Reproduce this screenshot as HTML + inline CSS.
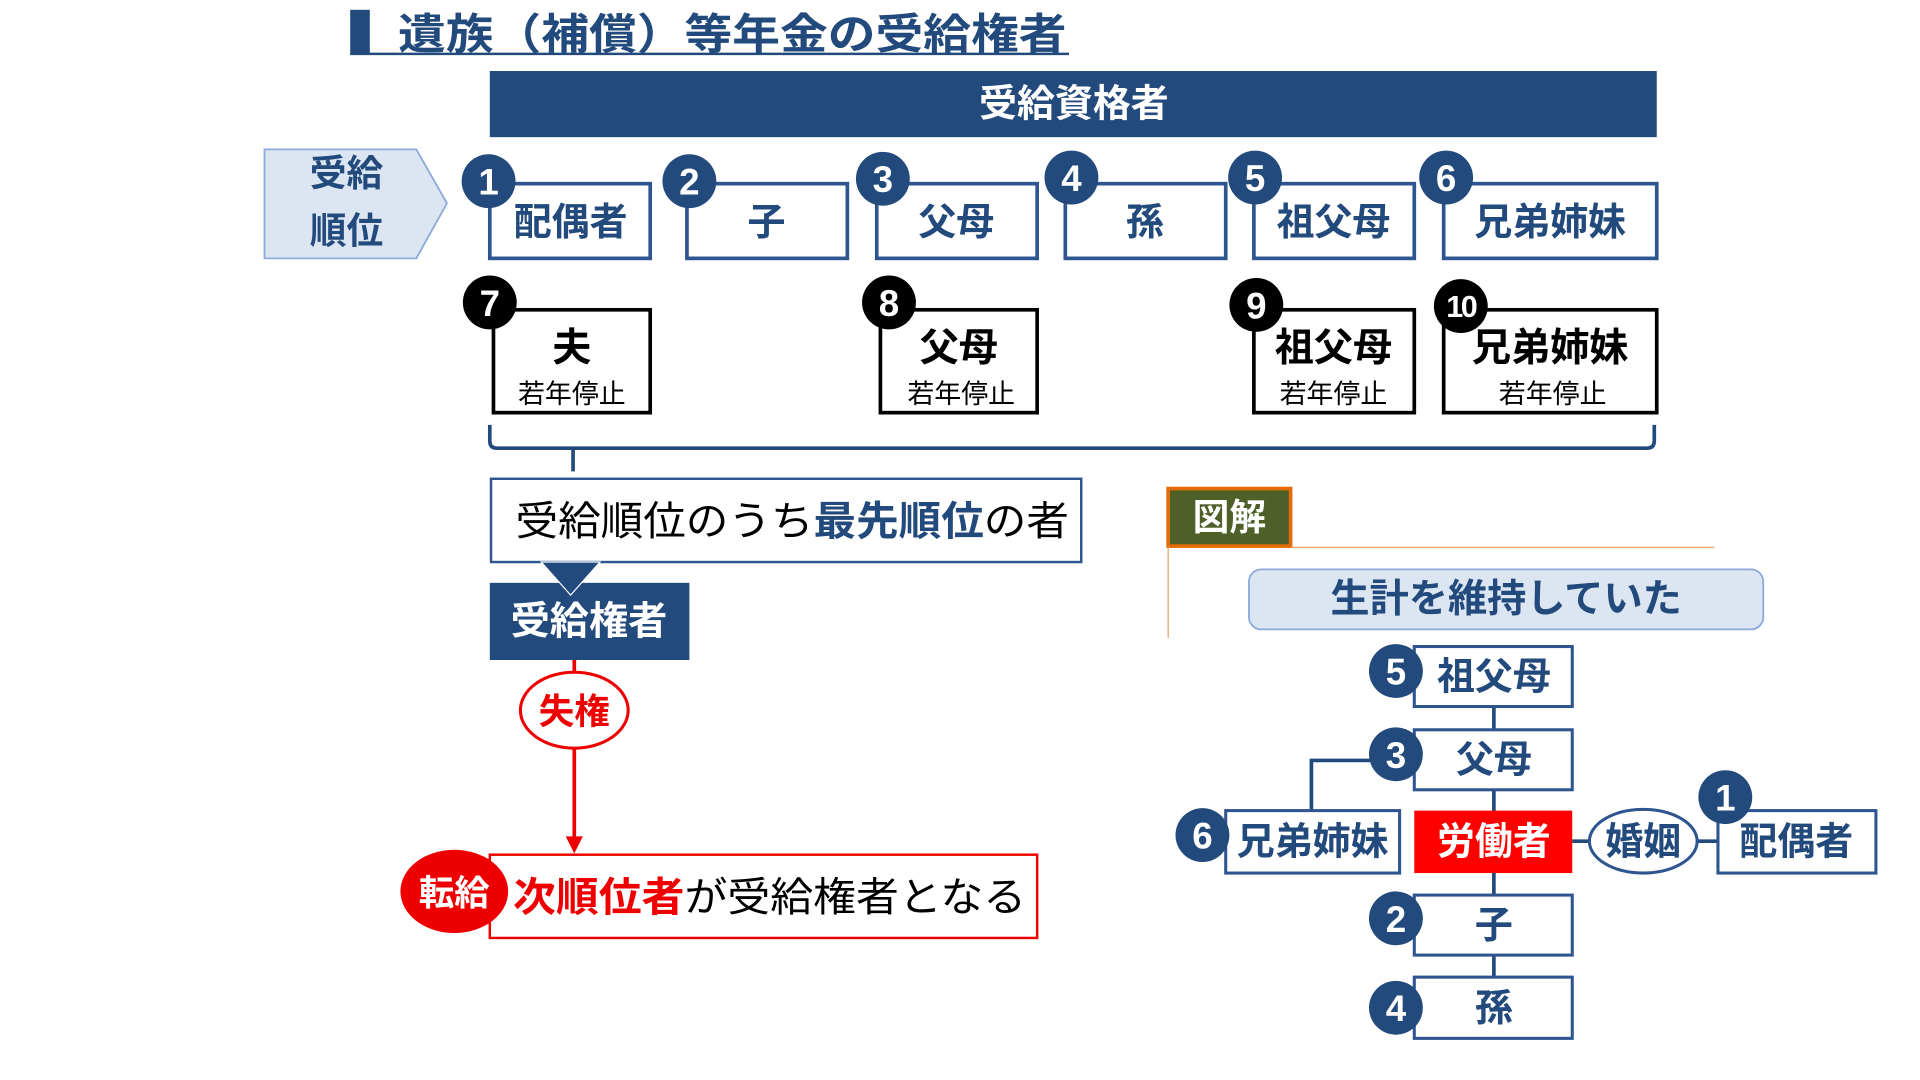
<!DOCTYPE html>
<html><head><meta charset="utf-8"><style>
html,body{margin:0;padding:0;background:#fff;width:1920px;height:1080px;overflow:hidden}
svg{display:block}
text{font-family:"Liberation Sans","Noto Sans CJK JP",sans-serif}
</style></head><body>
<svg width="1920" height="1080" viewBox="0 0 1568 882" xmlns="http://www.w3.org/2000/svg">
<g font-weight="bold">
<!-- title -->
<rect x="286" y="8" width="16" height="36" fill="#234a7c"/>
<text x="325" y="40" font-size="35" fill="#234a7c" textLength="546" lengthAdjust="spacingAndGlyphs">遺族（補償）等年金の受給権者</text>
<line x1="286" y1="44" x2="873" y2="44" stroke="#234a7c" stroke-width="2"/>
<!-- header -->
<rect x="400" y="58" width="953" height="54" fill="#234a7c"/>
<text x="877" y="95" font-size="31" fill="#fff" text-anchor="middle">受給資格者</text>
<!-- arrow -->
<polygon points="216,122 340,122 365,166 340,211 216,211" fill="#dce6f2" stroke="#8eaadb" stroke-width="1.5"/>
<text x="283" y="152" font-size="30" fill="#234a7c" text-anchor="middle">受給</text>
<text x="283" y="199" font-size="30" fill="#234a7c" text-anchor="middle">順位</text>
<!-- top row -->
<g fill="#fff" stroke="#2e5590" stroke-width="3">
<rect x="400" y="150" width="131" height="61"/>
<rect x="561" y="150" width="131" height="61"/>
<rect x="716" y="150" width="131" height="61"/>
<rect x="870" y="150" width="131" height="61"/>
<rect x="1024" y="150" width="131" height="61"/>
<rect x="1179" y="150" width="174" height="61"/>
</g>
<g font-size="31" fill="#234a7c" text-anchor="middle">
<text x="466" y="192">配偶者</text><text x="626" y="192">子</text><text x="781" y="192">父母</text>
<text x="935" y="192">孫</text><text x="1089" y="192">祖父母</text><text x="1266" y="192">兄弟姉妹</text>
</g>
<g fill="#234a7c"><circle cx="399" cy="148" r="22"/><circle cx="563" cy="148" r="22"/><circle cx="721" cy="146" r="22"/><circle cx="875" cy="145" r="22"/><circle cx="1025" cy="145" r="22"/><circle cx="1181" cy="145" r="22"/></g>
<g font-size="30" fill="#fff" text-anchor="middle">
<text x="399" y="159">1</text><text x="563" y="159">2</text><text x="721" y="157">3</text><text x="875" y="156">4</text><text x="1025" y="156">5</text><text x="1181" y="156">6</text>
</g>
<!-- second row -->
<g fill="#fff" stroke="#000" stroke-width="3">
<rect x="403" y="253" width="128" height="84"/><rect x="719" y="253" width="128" height="84"/>
<rect x="1024" y="253" width="131" height="84"/><rect x="1179" y="253" width="174" height="84"/>
</g>
<g font-size="32" fill="#000" text-anchor="middle">
<text x="467" y="295">夫</text><text x="783" y="295">父母</text><text x="1089" y="295">祖父母</text><text x="1266" y="295">兄弟姉妹</text>
</g>
<g font-size="22" font-weight="normal" fill="#000" text-anchor="middle">
<text x="467" y="329">若年停止</text><text x="785" y="329">若年停止</text><text x="1089" y="329">若年停止</text><text x="1268" y="329">若年停止</text>
</g>
<g fill="#000"><circle cx="400" cy="247" r="22"/><circle cx="726" cy="247" r="22"/><circle cx="1026" cy="249" r="22"/><circle cx="1193" cy="250" r="22"/></g>
<g fill="#fff" text-anchor="middle">
<text x="400" y="258" font-size="30">7</text><text x="726" y="258" font-size="30">8</text><text x="1026" y="260" font-size="30">9</text><text x="1193" y="259" font-size="25" letter-spacing="-2">10</text>
</g>
<!-- brace -->
<path d="M400,347 V360 Q400,366 406,366 H1345 Q1351,366 1351,360 V347" fill="none" stroke="#234a7c" stroke-width="3"/>
<line x1="468" y1="366" x2="468" y2="385" stroke="#234a7c" stroke-width="3"/>
<!-- priority box -->
<rect x="401" y="391" width="482" height="68" fill="#fff" stroke="#2e5590" stroke-width="2"/>
<text x="421" y="437" font-size="33" font-weight="normal" fill="#000" textLength="452" lengthAdjust="spacingAndGlyphs">受給順位のうち<tspan fill="#234a7c" font-weight="bold">最先順位</tspan>の者</text>
<rect x="400" y="476" width="163" height="63" fill="#234a7c"/>
<polygon points="442,459 490,459 466,486" fill="#234a7c" stroke="#fff" stroke-width="1"/>
<text x="481" y="518" font-size="32" fill="#fff" text-anchor="middle">受給権者</text>
<!-- red flow -->
<line x1="469" y1="539" x2="469" y2="685" stroke="#e00" stroke-width="3"/>
<polygon points="462,683 476,683 469,697" fill="#e00"/>
<ellipse cx="469" cy="580" rx="44" ry="31" fill="#fff" stroke="#e00" stroke-width="2.5"/>
<text x="469" y="591" font-size="29" fill="#e00" text-anchor="middle">失権</text>
<rect x="400" y="698" width="447" height="68" fill="#fff" stroke="#e00" stroke-width="2"/>
<text x="419" y="744" font-size="33" font-weight="normal" fill="#000" textLength="419" lengthAdjust="spacingAndGlyphs"><tspan fill="#e00" font-weight="bold">次順位者</tspan>が受給権者となる</text>
<ellipse cx="371" cy="728" rx="44" ry="34" fill="#e00"/>
<text x="371" y="739" font-size="29" fill="#fff" text-anchor="middle">転給</text>
<!-- right diagram -->
<rect x="954" y="399" width="100" height="47" fill="#4e5f28" stroke="#e36c09" stroke-width="3"/>
<text x="1004" y="433" font-size="30" fill="#fff" text-anchor="middle">図解</text>
<line x1="1054" y1="447" x2="1400" y2="447" stroke="#f0a060" stroke-width="1"/>
<line x1="954" y1="446" x2="954" y2="521" stroke="#e3a060" stroke-width="1"/>
<rect x="1020" y="465" width="420" height="49" rx="10" fill="#dce6f2" stroke="#8eaadb" stroke-width="1.5"/>
<text x="1230" y="500" font-size="32" fill="#234a7c" text-anchor="middle">生計を維持していた</text>
<g stroke="#234a7c" stroke-width="3" fill="none">
<line x1="1220" y1="577" x2="1220" y2="798"/>
<polyline points="1071,662 1071,621 1125,621"/>
<line x1="1284" y1="687" x2="1300" y2="687"/><line x1="1384" y1="687" x2="1403" y2="687"/>
</g>
<g fill="#fff" stroke="#2e5590" stroke-width="2.5">
<rect x="1155" y="528" width="129" height="49"/><rect x="1155" y="596" width="129" height="49"/>
<rect x="1155" y="731" width="129" height="49"/><rect x="1155" y="798" width="129" height="50"/>
<rect x="1001" y="662" width="142" height="51"/><rect x="1403" y="662" width="129" height="51"/>
<ellipse cx="1342" cy="687" rx="44" ry="26"/>
</g>
<rect x="1155" y="662" width="129" height="51" fill="#f00"/>
<g font-size="31" text-anchor="middle" fill="#234a7c">
<text x="1220" y="563">祖父母</text><text x="1220" y="631">父母</text><text x="1220" y="766">子</text><text x="1220" y="834">孫</text>
<text x="1072" y="698">兄弟姉妹</text><text x="1467" y="698">配偶者</text><text x="1342" y="698">婚姻</text>
<text x="1220" y="698" fill="#fff">労働者</text>
</g>
<g fill="#234a7c"><circle cx="1140" cy="548" r="22"/><circle cx="1140" cy="616" r="22"/><circle cx="982" cy="682" r="22"/><circle cx="1409" cy="651" r="22"/><circle cx="1140" cy="750" r="22"/><circle cx="1140" cy="823" r="22"/></g>
<g font-size="30" fill="#fff" text-anchor="middle">
<text x="1140" y="559">5</text><text x="1140" y="627">3</text><text x="982" y="693">6</text><text x="1409" y="662">1</text><text x="1140" y="761">2</text><text x="1140" y="834">4</text>
</g>
</g>
</svg>
</body></html>
